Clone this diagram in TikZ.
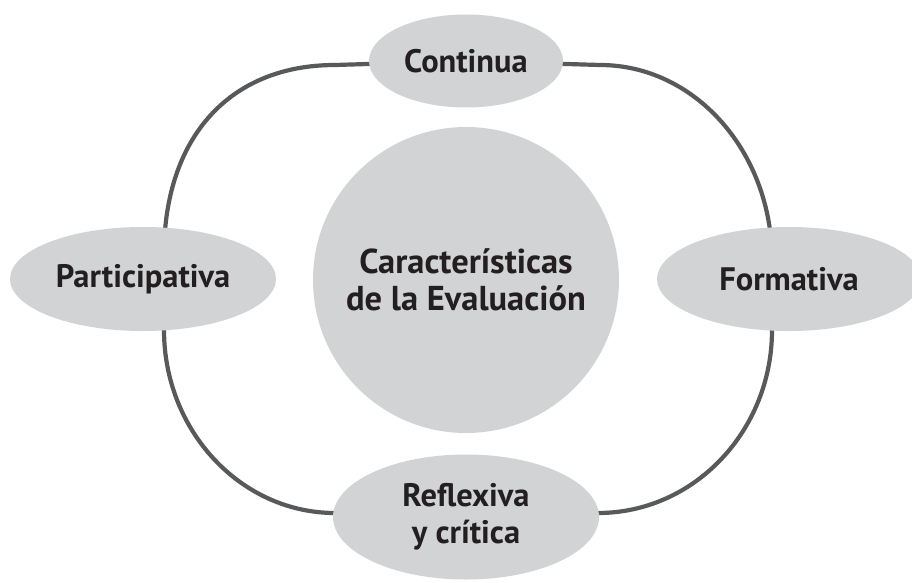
\documentclass[tikz,border=0pt]{standalone}
\usepackage{fontspec}
\setmainfont{PT Sans}
\usetikzlibrary{shapes.geometric,backgrounds}
\definecolor{bubblec}{HTML}{D1D3D4}
\definecolor{ringc}{HTML}{58595B}
\definecolor{txtc}{HTML}{231F20}
\begin{document}
\begin{tikzpicture}[x=1pt,y=-1pt,
  bubble/.style={ellipse, fill=bubblec, inner sep=0pt, text=txtc,
    font=\bfseries\fontsize{32.5}{37}\selectfont, align=center},
  hub/.style={circle, fill=bubblec, inner sep=0pt, text=txtc,
    font=\bfseries\fontsize{34.5}{37}\selectfont, align=center},
  ring/.style={draw=ringc, line width=4.2pt}]
\useasboundingbox (0,0) rectangle (912,583);
\node[hub, minimum size=306pt] (centro) at (466,280) {Características\\de la Evaluación};
\node[bubble, minimum width=194pt, minimum height=93pt] (cont) at (466,61) {Continua};
\node[bubble, minimum width=266pt, minimum height=104pt] (part) at (143,279) {Participativa};
\node[bubble, minimum width=264pt, minimum height=104pt] (form) at (789,279) {Formativa};
\node[bubble, minimum width=266pt, minimum height=125pt] (refl) at (466,517) {Reflexiva\\y crítica};
\begin{pgfonlayer}{background}
\draw[ring] (cont.center) -- (600,65) .. controls (695,65) and (772,152) .. (772,260) -- (form.center);
\draw[ring] (form.center) -- (772,330) .. controls (772,431) and (694,513) .. (598,513) -- (refl.center);
\draw[ring] (refl.center) -- (335,513) .. controls (241,513) and (164,431) .. (164,330) -- (part.center);
\draw[ring] (part.center) -- (164,255) .. controls (164,137) and (230,65) .. (335,65) -- (cont.center);
\end{pgfonlayer}
\end{tikzpicture}
\end{document}
